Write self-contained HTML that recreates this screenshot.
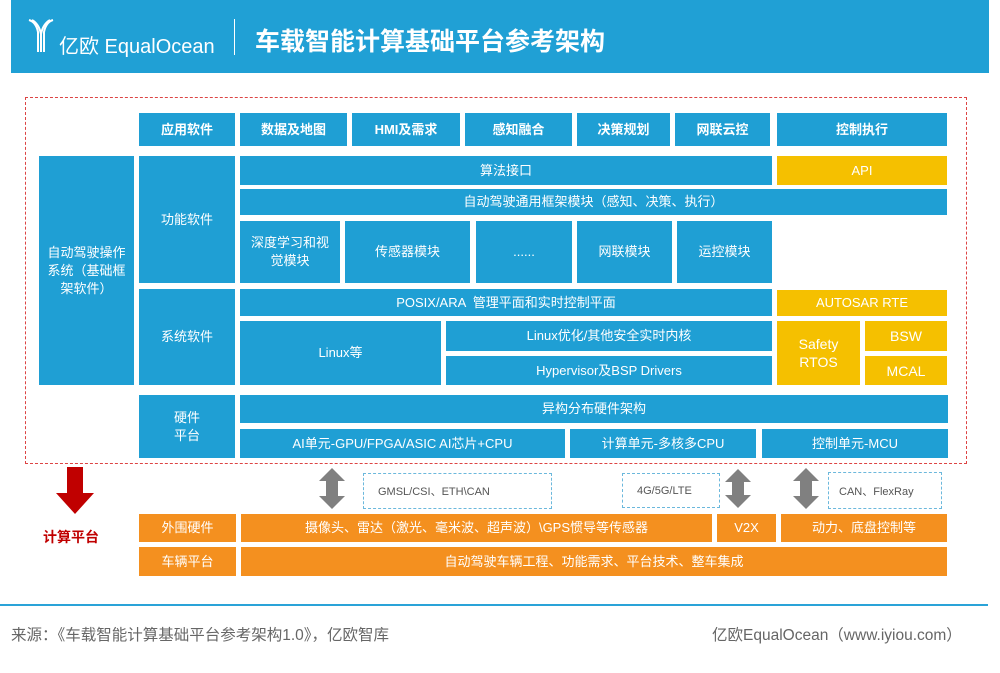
<!DOCTYPE html>
<html><head><meta charset="utf-8"><style>
*{margin:0;padding:0;box-sizing:border-box}
body{width:1000px;height:673px;background:#fff;position:relative;overflow:hidden;font-family:"Liberation Sans","Noto Sans CJK SC",sans-serif}
.b{position:absolute;background:#1f9fd4;color:#fff;font-size:13px;display:flex;align-items:center;justify-content:center;text-align:center;line-height:18px}
.y{background:#f5c000}
.o{background:#f4901f}
.bold{font-weight:bold}
.d{position:absolute;border:1px dashed #6bb8dc;background:#fff;font-size:11px;color:#555;display:flex;align-items:center;padding-left:14px}
.t{position:absolute}
</style></head><body>
<div style="position:absolute;left:11px;top:0;width:978px;height:73px;background:#20a0d5"></div>
<svg class="t" style="left:28px;top:18px" width="26" height="36" viewBox="0 0 26 36"><g stroke="#fff" stroke-width="2" fill="none"><path d="M1 2 Q8 4 10 14 V34"/><path d="M4 2 Q11 6 13 16 V34"/><path d="M25 2 Q18 4 16 14 V34"/><path d="M22 2 Q15 6 13 16"/></g></svg>
<div class="t" style="left:59px;top:30px;color:#fff;font-size:20px;">亿欧 EqualOcean</div>
<div class="t" style="left:234px;top:19px;width:1px;height:36px;background:#fff"></div>
<div class="t" style="left:255px;top:22px;color:#fff;font-size:25px;font-weight:bold">车载智能计算基础平台参考架构</div>
<div class="t" style="left:25px;top:97px;width:942px;height:367px;border:1px dashed #d44"></div>

<div class="b bold" style="left:139px;top:113px;width:96px;height:33px">应用软件</div>
<div class="b bold" style="left:240px;top:113px;width:107px;height:33px">数据及地图</div>
<div class="b bold" style="left:352px;top:113px;width:108px;height:33px">HMI及需求</div>
<div class="b bold" style="left:465px;top:113px;width:107px;height:33px">感知融合</div>
<div class="b bold" style="left:577px;top:113px;width:93px;height:33px">决策规划</div>
<div class="b bold" style="left:675px;top:113px;width:95px;height:33px">网联云控</div>
<div class="b bold" style="left:777px;top:113px;width:170px;height:33px">控制执行</div>

<div class="b" style="left:39px;top:156px;width:95px;height:229px;padding:0 6px">自动驾驶操作系统（基础框架软件）</div>
<div class="b" style="left:139px;top:156px;width:96px;height:127px">功能软件</div>
<div class="b" style="left:240px;top:156px;width:532px;height:29px">算法接口</div>
<div class="b y" style="left:777px;top:156px;width:170px;height:29px">API</div>
<div class="b" style="left:240px;top:189px;width:707px;height:26px">自动驾驶通用框架模块（感知、决策、执行）</div>
<div class="b" style="left:240px;top:221px;width:100px;height:62px;padding:0 8px">深度学习和视觉模块</div>
<div class="b" style="left:345px;top:221px;width:125px;height:62px">传感器模块</div>
<div class="b" style="left:476px;top:221px;width:96px;height:62px">......</div>
<div class="b" style="left:577px;top:221px;width:95px;height:62px">网联模块</div>
<div class="b" style="left:677px;top:221px;width:95px;height:62px">运控模块</div>

<div class="b" style="left:139px;top:289px;width:96px;height:96px">系统软件</div>
<div class="b" style="left:240px;top:289px;width:532px;height:27px">POSIX/ARA &nbsp;管理平面和实时控制平面</div>
<div class="b y" style="left:777px;top:290px;width:170px;height:26px">AUTOSAR RTE</div>
<div class="b" style="left:240px;top:321px;width:201px;height:64px">Linux等</div>
<div class="b" style="left:446px;top:321px;width:326px;height:30px">Linux优化/其他安全实时内核</div>
<div class="b" style="left:446px;top:356px;width:326px;height:29px">Hypervisor及BSP Drivers</div>
<div class="b y" style="left:777px;top:321px;width:83px;height:64px;font-size:14px">Safety<br>RTOS</div>
<div class="b y" style="left:865px;top:321px;width:82px;height:30px;font-size:14px">BSW</div>
<div class="b y" style="left:865px;top:356px;width:82px;height:29px;font-size:14px">MCAL</div>

<div class="b" style="left:139px;top:395px;width:96px;height:63px">硬件<br>平台</div>
<div class="b" style="left:240px;top:395px;width:708px;height:28px">异构分布硬件架构</div>
<div class="b" style="left:240px;top:429px;width:325px;height:29px">AI单元-GPU/FPGA/ASIC AI芯片+CPU</div>
<div class="b" style="left:570px;top:429px;width:186px;height:29px">计算单元-多核多CPU</div>
<div class="b" style="left:762px;top:429px;width:186px;height:29px">控制单元-MCU</div>

<svg class="t" style="left:54px;top:467px" width="42" height="48"><polygon points="13,0 29,0 29,26 40,26 21,47 2,26 13,26" fill="#c00000"/></svg>
<div class="t" style="left:43px;top:527px;color:#c00000;font-weight:bold;font-size:14px">计算平台</div>

<svg class="t" style="left:0;top:466px" width="1000" height="45"><g fill="#808080">
<polygon points="332,2 345,15 338,15 338,30 345,30 332,43 319,30 326,30 326,15 319,15"/>
<polygon points="738,3 751,16 744,16 744,29 751,29 738,42 725,29 732,29 732,16 725,16"/>
<polygon points="806,2 819,15 812,15 812,30 819,30 806,43 793,30 800,30 800,15 793,15"/>
</g></svg>
<div class="d" style="left:363px;top:473px;width:189px;height:36px">GMSL/CSI、ETH\CAN</div>
<div class="d" style="left:622px;top:473px;width:98px;height:35px;padding-left:14px">4G/5G/LTE</div>
<div class="d" style="left:828px;top:472px;width:114px;height:37px;padding-left:10px">CAN、FlexRay</div>

<div class="b o" style="left:139px;top:514px;width:97px;height:28px">外围硬件</div>
<div class="b o" style="left:241px;top:514px;width:471px;height:28px">摄像头、雷达（激光、毫米波、超声波）\GPS惯导等传感器</div>
<div class="b o" style="left:717px;top:514px;width:59px;height:28px">V2X</div>
<div class="b o" style="left:781px;top:514px;width:166px;height:28px">动力、底盘控制等</div>
<div class="b o" style="left:139px;top:547px;width:97px;height:29px">车辆平台</div>
<div class="b o" style="left:241px;top:547px;width:706px;height:29px">自动驾驶车辆工程、功能需求、平台技术、整车集成</div>

<div class="t" style="left:0;top:604px;width:988px;height:2px;background:#2aa3d8"></div>
<div class="t" style="left:11px;top:623px;color:#666;font-size:15.5px;white-space:nowrap">来源：《车载智能计算基础平台参考架构1.0》，亿欧智库</div>
<div class="t" style="left:712px;top:623px;color:#666;font-size:15.5px;white-space:nowrap">亿欧EqualOcean（www.iyiou.com）</div>
</body></html>
